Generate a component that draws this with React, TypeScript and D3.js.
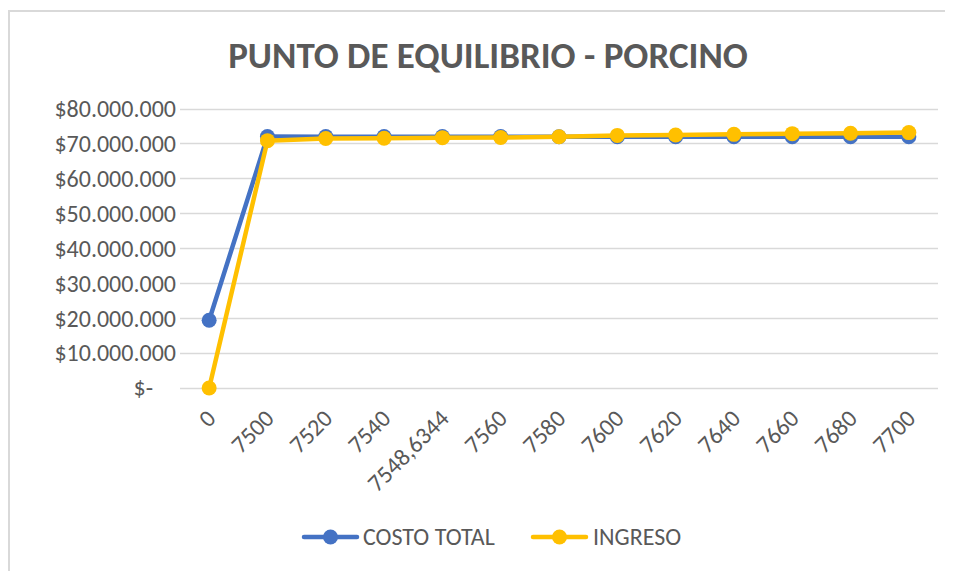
import React from "react";
import * as d3 from "d3";

const categories = ["0", "7500", "7520", "7540", "7548,6344", "7560", "7580", "7600", "7620", "7640", "7660", "7680", "7700"];
const costoTotal = [19400000, 72000000, 71950000, 71950000, 71950000, 71950000, 71900000, 71900000, 71900000, 71900000, 71900000, 71900000, 71900000];
const ingreso = [0, 70800000, 71400000, 71500000, 71650000, 71700000, 71900000, 72300000, 72400000, 72600000, 72800000, 72900000, 73100000];
const yTicks = [0, 10000000, 20000000, 30000000, 40000000, 50000000, 60000000, 70000000, 80000000];

const series = [
  { name: "COSTO TOTAL", values: costoTotal, color: "#4472C4" },
  { name: "INGRESO", values: ingreso, color: "#FFC000" },
];

const font = "Carlito, Calibri, 'Open Sans', sans-serif";
const textColor = "#595959";

const App = () => {
  const plot = { left: 180, right: 938, top: 108.5, bottom: 388 };
  const band = (plot.right - plot.left) / categories.length;

  const x = d3
    .scalePoint<string>()
    .domain(categories)
    .range([plot.left + band / 2, plot.right - band / 2]);

  const y = d3.scaleLinear().domain([0, 80000000]).range([plot.bottom, plot.top]);

  // accounting style: "$-" for zero
  const fmt = (v: number) =>
    v === 0 ? "$-" : "$" + d3.format(",")(v).replace(/,/g, ".");

  const line = d3
    .line<number>()
    .x((d, i) => x(categories[i]) as number)
    .y((d) => y(d));

  const legend = [
    { x: 304, textX: 363 },
    { x: 533, textX: 593 },
  ];

  return (
    <svg width={945} height={563} style={{ display: "block" }}>
      <g transform="translate(-8,-8)">
        <rect x={9} y={11} width={1000} height={600} fill="#fff" stroke="#d9d9d9" strokeWidth={2} />

        <text x={488} y={68} textAnchor="middle" fontFamily={font} fontWeight="bold" fontSize={37} fill={textColor}>
          PUNTO DE EQUILIBRIO - PORCINO
        </text>

        {/* gridlines + y labels */}
        {yTicks.map((t) => (
          <g key={t}>
            <line x1={plot.left} x2={plot.right} y1={Math.round(y(t)) + 0.5} y2={Math.round(y(t)) + 0.5} stroke="#d9d9d9" strokeWidth={1.5} />
            <text
              x={t === 0 ? 153 : 176}
              y={y(t)}
              dy="0.35em"
              textAnchor="end"
              fontFamily={font}
              fontSize={24}
              fill={textColor}
            >
              {fmt(t)}
            </text>
          </g>
        ))}

        {/* x labels */}
        {categories.map((c) => (
          <text
            key={c}
            transform={`translate(${(x(c) as number) + 8},${plot.bottom + 32}) rotate(-45)`}
            textAnchor="end"
            fontFamily={font}
            fontSize={24}
            fill={textColor}
          >
            {c}
          </text>
        ))}

        {/* lines */}
        {series.map((s) => (
          <g key={s.name}>
            <path d={line(s.values) || ""} fill="none" stroke={s.color} strokeWidth={4.5} strokeLinejoin="round" strokeLinecap="round" />
            {s.values.map((v, i) => (
              <circle key={i} cx={x(categories[i])} cy={y(v)} r={7.5} fill={s.color} />
            ))}
          </g>
        ))}

        {/* legend */}
        {series.map((s, i) => (
          <g key={s.name}>
            <line x1={legend[i].x} x2={legend[i].x + 53} y1={537} y2={537} stroke={s.color} strokeWidth={4.5} strokeLinecap="round" />
            <circle cx={legend[i].x + 26.5} cy={537} r={7.5} fill={s.color} />
            <text x={legend[i].textX} y={537} dy="0.35em" fontFamily={font} fontSize={24} fill={textColor}>
              {s.name}
            </text>
          </g>
        ))}
      </g>
    </svg>
  );
};

export default App;
